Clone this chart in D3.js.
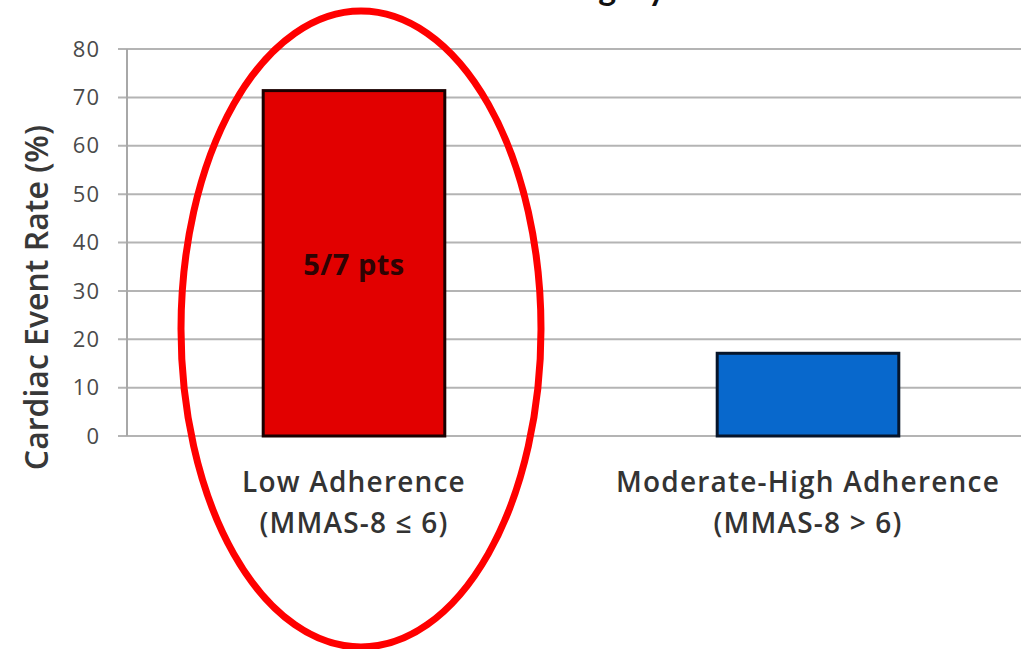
<!DOCTYPE html>
<html>
<head>
<meta charset="utf-8">
<script src="https://cdn.jsdelivr.net/npm/d3@7"></script>
<style>
  body { margin: 0; background: #fff; }
  svg { display: block; }
</style>
</head>
<body>
<svg id="chart" width="1021" height="649"></svg>
<script>
// chart data
const categories = ["Low Adherence", "Moderate-High Adherence"];
const subLabels = ["(MMAS-8 \u2264 6)", "(MMAS-8 > 6)"];
const eventRates = [71.4, 17.1];
const barLabels = ["5/7 pts", ""];
const yTicks = [0, 10, 20, 30, 40, 50, 60, 70, 80];
const titleText = "Adherence Category";

const barColors = ["#e20000", "#0868cc"];
const barStrokes = ["#1a0000", "#06152b"];

const width = 1021, height = 649;
const svg = d3.select("#chart");

const x = d3.scaleBand()
    .domain(categories)
    .range([127, 1035])
    .paddingInner(0.6)
    .paddingOuter(0.3);

const y = d3.scaleLinear()
    .domain([0, 80])
    .range([436, 49]);

// title, mostly cut off by the top edge as in the source picture
svg.append("text")
    .attr("x", 666)
    .attr("y", 0)
    .attr("text-anchor", "end")
    .attr("font-family", "Lato, sans-serif")
    .attr("font-weight", "bold")
    .attr("font-size", 34)
    .attr("fill", "#111")
    .text(titleText);

// gridlines
svg.append("g")
    .selectAll("line")
    .data(yTicks)
    .join("line")
    .attr("x1", 118)
    .attr("x2", width)
    .attr("y1", d => y(d))
    .attr("y2", d => y(d))
    .attr("stroke", "#b4b4b4")
    .attr("stroke-width", 2);

// y axis line
svg.append("line")
    .attr("x1", 127).attr("x2", 127)
    .attr("y1", y(80)).attr("y2", y(0))
    .attr("stroke", "#a8a8a8")
    .attr("stroke-width", 2);

// tick labels
svg.append("g")
    .selectAll("text")
    .data(yTicks)
    .join("text")
    .attr("x", 100)
    .attr("y", d => y(d))
    .attr("dy", "0.35em")
    .attr("text-anchor", "end")
    .attr("font-family", "'Open Sans', sans-serif")
    .attr("font-size", 22)
    .attr("letter-spacing", 1)
    .attr("fill", "#4a4a4a")
    .text(d => d);

// y axis title
svg.append("text")
    .attr("transform", `translate(48, ${(y(0) + y(80)) / 2 + 55}) rotate(-90)`)
    .attr("text-anchor", "middle")
    .attr("font-family", "'Open Sans', sans-serif")
    .attr("font-weight", 600)
    .attr("font-size", 32)
    .attr("fill", "#383838")
    .text("Cardiac Event Rate (%)");

// bars
svg.append("g")
    .selectAll("rect")
    .data(eventRates)
    .join("rect")
    .attr("x", (d, i) => x(categories[i]))
    .attr("y", d => y(d))
    .attr("width", x.bandwidth())
    .attr("height", d => y(0) - y(d))
    .attr("fill", (d, i) => barColors[i])
    .attr("stroke", (d, i) => barStrokes[i])
    .attr("stroke-width", 3);

// label inside the first bar
svg.append("g")
    .selectAll("text")
    .data(eventRates)
    .join("text")
    .attr("x", (d, i) => x(categories[i]) + x.bandwidth() / 2)
    .attr("y", 265)
    .attr("dy", "0.35em")
    .attr("text-anchor", "middle")
    .attr("font-family", "'Open Sans', sans-serif")
    .attr("font-weight", "bold")
    .attr("font-size", 29)
    .attr("letter-spacing", 0.5)
    .attr("fill", "#2e0303")
    .text((d, i) => barLabels[i]);

// category labels
const catG = svg.append("g")
    .selectAll("text")
    .data(categories)
    .join("text")
    .attr("x", d => x(d) + x.bandwidth() / 2)
    .attr("text-anchor", "middle")
    .attr("font-family", "'Open Sans', sans-serif")
    .attr("font-weight", 600)
    .attr("font-size", 28)
    .attr("letter-spacing", 1.2)
    .attr("fill", "#333");
catG.append("tspan")
    .attr("x", d => x(d) + x.bandwidth() / 2)
    .attr("y", 492)
    .text(d => d);
catG.append("tspan")
    .attr("x", d => x(d) + x.bandwidth() / 2)
    .attr("y", 533)
    .text((d, i) => subLabels[i]);

// red highlight ellipse round the first category
svg.append("ellipse")
    .attr("cx", x(categories[0]) + x.bandwidth() / 2 + 7)
    .attr("cy", 329)
    .attr("rx", 180)
    .attr("ry", 318)
    .attr("fill", "none")
    .attr("stroke", "#ff0000")
    .attr("stroke-width", 7);
</script>
</body>
</html>
